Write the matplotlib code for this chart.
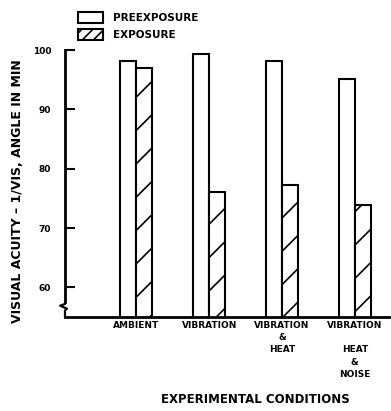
import matplotlib
matplotlib.use("Agg")
import matplotlib.pyplot as plt
import matplotlib.transforms as mtransforms
from matplotlib.patches import Patch
import numpy as np

categories = ["AMBIENT", "VIBRATION", "VIBRATION\n&\nHEAT", "VIBRATION\n\nHEAT\n&\nNOISE"]
preexposure = [98.2, 99.3, 98.2, 95.1]
exposure = [97.0, 76.1, 77.3, 73.8]
yticks = [60, 70, 80, 90, 100]

plt.rcParams['font.family'] = ['DejaVu Sans']
plt.rcParams['hatch.linewidth'] = 1.2

fig = plt.figure(figsize=(3.91, 4.11), dpi=100)
ax = fig.add_axes([65/391, 1-317/411, 0.995-65/391, (317-50)/411])

x = np.arange(len(categories))
w = 0.22
b1 = ax.bar(x - w/2, preexposure, w, color='white', edgecolor='black', linewidth=1.5)
b2 = ax.bar(x + w/2, exposure, w, color='white', edgecolor='black', linewidth=1.5, hatch='/')

ax.set_ylim(55, 100)
ax.set_xlim(-0.98, 3.47)
ax.spines['top'].set_visible(False)
ax.spines['right'].set_visible(False)
ax.spines['left'].set_linewidth(2)
ax.spines['bottom'].set_linewidth(2)
ax.spines['left'].set_bounds(57.6, 100)

ax.set_yticks(yticks)
ax.set_yticklabels([str(v) for v in yticks], fontsize=6.5, fontweight='bold')
ax.tick_params(axis='y', direction='in', length=7, width=1.5, pad=10)
ax.set_xticks(x)
ax.set_xticklabels(categories, fontsize=6.5, fontweight='bold', linespacing=1.45, va='top')
ax.tick_params(axis='x', length=0, pad=3)

# axis break mark
trans = mtransforms.blended_transform_factory(ax.transAxes, ax.transData)
ax.plot([0, 0, -0.015, 0.006, 0.0, 0.0], [57.6, 57.2, 56.9, 56.4, 56.1, 55], transform=trans,
        clip_on=False, color='black', lw=1.6, solid_capstyle='butt')

ax.set_ylabel("VISUAL ACUITY – 1/VIS, ANGLE IN MIN", fontsize=9, fontweight='bold')
ax.yaxis.set_label_coords(-0.125, 0.472)
ax.set_xlabel("EXPERIMENTAL CONDITIONS", fontsize=8.5, fontweight='bold')
ax.xaxis.set_label_coords(0.586, -0.285)

h1 = Patch(facecolor='white', edgecolor='black', linewidth=1.5, label='PREEXPOSURE')
h2 = Patch(facecolor='white', edgecolor='black', linewidth=1.5, hatch='///', label='EXPOSURE')
leg = fig.legend(handles=[h1, h2], loc='upper left', bbox_to_anchor=(76/391, 1-10/411),
                 frameon=False, fontsize=7.5, handlelength=2.4, handleheight=1.2,
                 handletextpad=1.0, labelspacing=0.6, borderpad=0.2, borderaxespad=0)
for t in leg.get_texts():
    t.set_fontweight('bold')

fig.savefig("out.png", dpi=100)
